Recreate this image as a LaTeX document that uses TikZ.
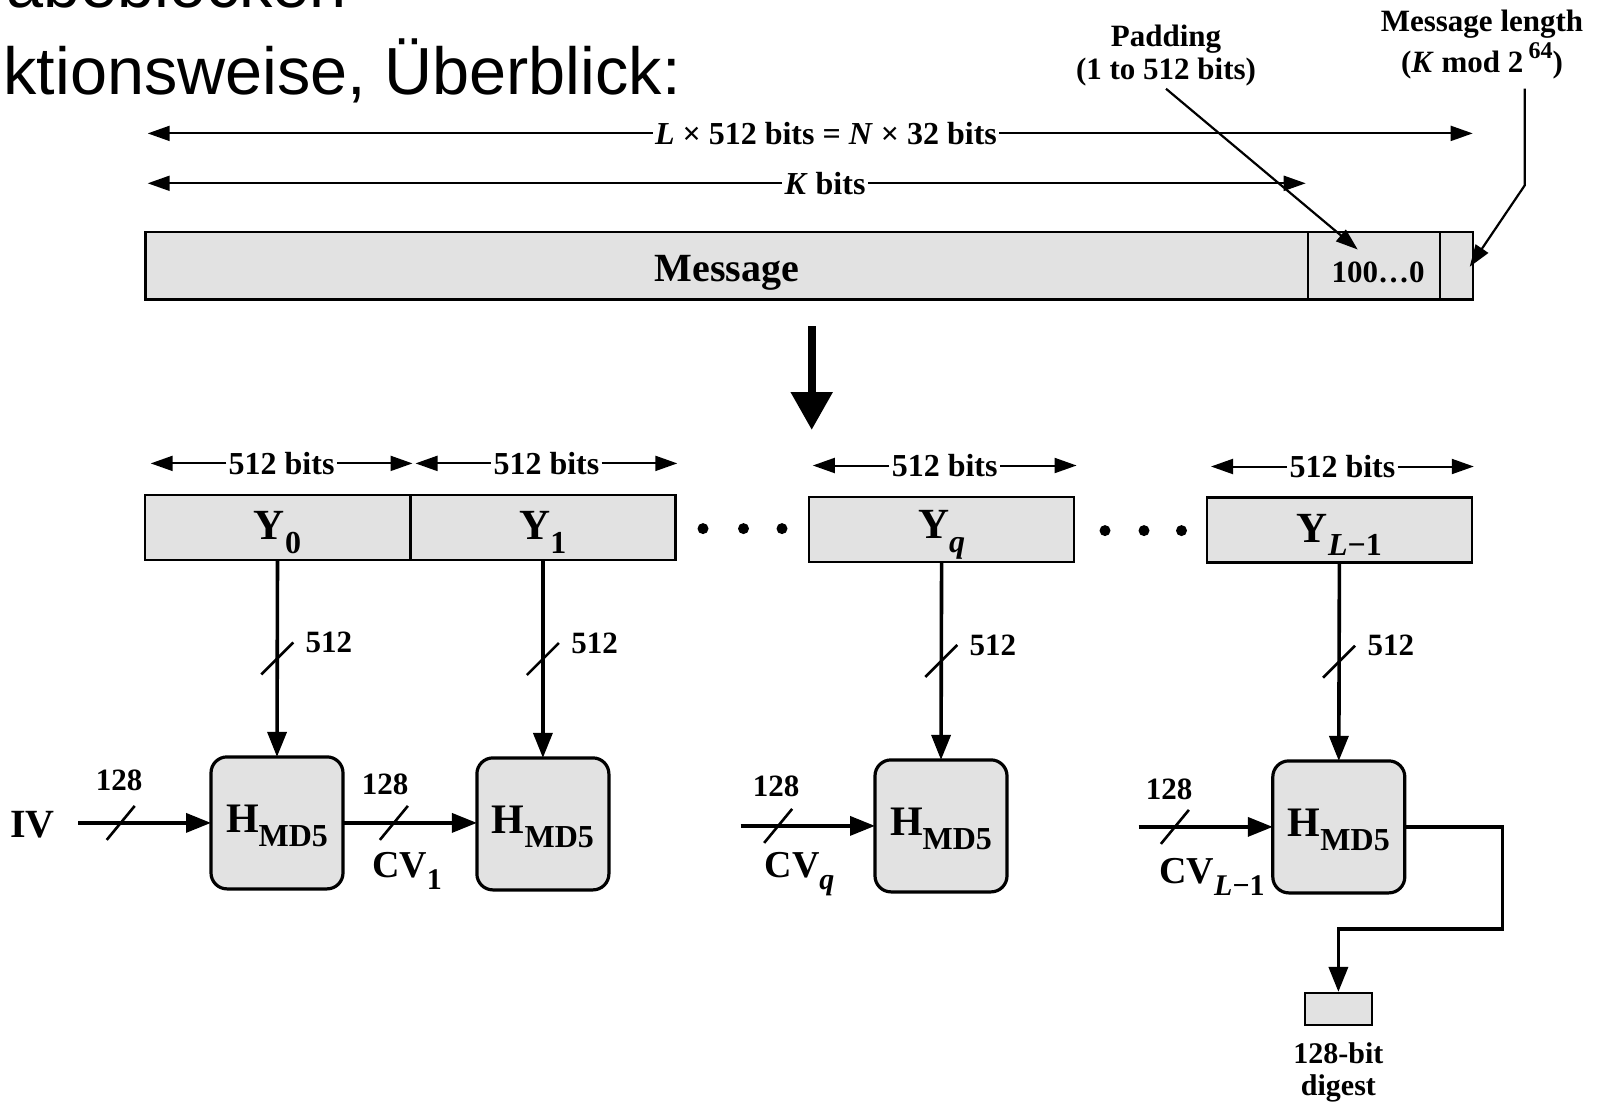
\documentclass[tikz,border=0pt]{standalone}
\usepackage{fontspec}
\setmainfont{Liberation Serif}
\newfontfamily\headfont{Liberation Sans}
\usetikzlibrary{arrows.meta,calc}
\newcommand\fs[1]{\fontsize{#1}{#1}\selectfont}
\newcommand\fsb[2]{\fontsize{#1}{#2}\selectfont}
\newcommand\mysub[3]{#2\raisebox{-0.32em}{\fs{#1}#3}}
\definecolor{boxfill}{RGB}{226,226,226}
\begin{document}
\begin{tikzpicture}[x=0.5pt,y=-0.5pt,
  every node/.style={font=\bfseries},
  headtxt/.style={anchor=base west,inner sep=0pt,font=\headfont\fs{33.3}},
  lbl/.style={inner sep=1pt,font=\bfseries\fs{16}},
  small/.style={inner sep=1pt,font=\bfseries\fs{15.5}},
  dimarrow/.style={line width=1pt,-{Triangle[length=11pt,width=7.5pt]}},
  pointer/.style={line width=1.1pt,-{Triangle[length=11pt,width=7.5pt]}},
  flowline/.style={line width=1.8pt},
  flowarrow/.style={flowline,-{Triangle[length=12.5pt,width=9.5pt]}},
  slashmark/.style={line width=1.3pt},
  bar/.style={draw,line width=1.2pt,fill=boxfill,inner sep=0pt,outer sep=0pt,minimum height=33.6pt},
  block/.style={draw,line width=1.2pt,fill=boxfill,inner sep=0pt,outer sep=0pt,minimum width=132.5pt,minimum height=32.5pt},
  blocktxt/.style={inner sep=0pt,font=\bfseries\fs{21.5}},
  hbox/.style={draw,line width=1.6pt,fill=boxfill,rounded corners=8pt,inner sep=0pt,outer sep=0pt,minimum width=66pt,minimum height=66pt},
  htxt/.style={inner sep=0pt,font=\bfseries\fs{21}},
  cvlbl/.style={inner sep=1pt,font=\bfseries\fs{19}}
]
\useasboundingbox (0,0) rectangle (1597,1103);

% heading (cut off slide text)
\node[headtxt] (head1) at (6,8) {abeblöcken};
\node[headtxt] (head2) at (3,94.5) {ktionsweise, Überblick:};

% message bar
\node[bar,minimum width=581.1pt] (msg) at (726.7,265.8) {};
\node[bar,minimum width=66.2pt] (pad) at (1374,265.8) {};
\node[bar,minimum width=16.25pt] (len) at (1456.45,265.8) {};
\node[inner sep=0pt,font=\bfseries\fs{20}] (msgt) at ([yshift=-3.5pt]msg.center) {Message};
\node[inner sep=0pt,font=\bfseries\fs{15.5}] (padt) at ([xshift=2pt,yshift=-3.5pt]pad.center) {100…0};

% top dimension arrows
\node[lbl] (Llab) at (826,133.4) {\textit{L} × 512 bits = \textit{N} × 32 bits};
\coordinate (Lleft) at (147.7,133.4);
\coordinate (Lright) at (1472.7,133.4);
\draw[dimarrow] (Llab.west) -- (Lleft);
\draw[dimarrow] (Llab.east) -- (Lright);
\node[lbl] (Klab) at (825,183.3) {\textit{K} bits};
\coordinate (Kleft) at (147.7,183.3);
\coordinate (Kright) at (1305.7,183.3);
\draw[dimarrow] (Klab.west) -- (Kleft);
\draw[dimarrow] (Klab.east) -- (Kright);

% padding / length annotations
\node[small,align=center,font=\bfseries\fsb{15.5}{16.8}] (padlab) at (1166,55.5) {Padding\\(1 to 512 bits)};
\coordinate (padtip) at (1357.7,249.5);
\draw[pointer] (padlab.south) -- (padtip);
\node[small,align=center,font=\bfseries\fsb{15.5}{20.5}] (lenlab) at (1482,44.7) {Message length\\(\textit{K} mod 2\,\raisebox{0.45em}{\fs{12}64})};
\coordinate (lenA) at (1524.7,88.6);
\coordinate (lenB) at (1524.7,185.4);
\coordinate (lentip) at (1469.7,266.8);
\draw[pointer] (lenA) -- (lenB) -- (lentip);

% big down arrow
\coordinate (bigA) at (811.7,326);
\coordinate (bigB) at (811.7,430);
\draw[line width=4.2pt,-{Triangle[length=19pt,width=20pt]}] (bigA) -- (bigB);

% blocks
\node[block] (y0) at (277.5,527.5) {};
\node[block] (y1) at (542.9,527.5) {};
\node[block] (yq) at (941.6,529.5) {};
\node[block] (yL) at (1339.4,530) {};
\node[blocktxt] (y0t) at ([yshift=-2.5pt]y0.center) {\mysub{16}{Y}{0}};
\node[blocktxt] (y1t) at ([yshift=-2.5pt]y1.center) {\mysub{16}{Y}{1}};
\node[blocktxt] (yqt) at ([yshift=-2.5pt]yq.center) {\mysub{16}{Y}{\textit{q}}};
\node[blocktxt] (yLt) at ([yshift=-2.5pt]yL.center) {\mysub{16}{Y}{\textit{L}−1}};

% block dimension arrows
\node[lbl] (b0lab) at (281.6,463.4) {512 bits};
\coordinate (b0l) at (150.7,463.4); \coordinate (b0r) at (412.5,463.4);
\draw[dimarrow] (b0lab.west) -- (b0l); \draw[dimarrow] (b0lab.east) -- (b0r);
\node[lbl] (b1lab) at (546.4,463.4) {512 bits};
\coordinate (b1l) at (415.5,463.4); \coordinate (b1r) at (677.3,463.4);
\draw[dimarrow] (b1lab.west) -- (b1l); \draw[dimarrow] (b1lab.east) -- (b1r);
\node[lbl] (bqlab) at (944.7,465.5) {512 bits};
\coordinate (bql) at (812.8,465.5); \coordinate (bqr) at (1076.6,465.5);
\draw[dimarrow] (bqlab.west) -- (bql); \draw[dimarrow] (bqlab.east) -- (bqr);
\node[lbl] (bLlab) at (1342.4,466.5) {512 bits};
\coordinate (bLl) at (1211,466.5); \coordinate (bLr) at (1473.8,466.5);
\draw[dimarrow] (bLlab.west) -- (bLl); \draw[dimarrow] (bLlab.east) -- (bLr);

% dots
\foreach \x in {703,743.5,782} \fill (\x,528.6) circle[radius=5.5];
\foreach \x in {1105,1144,1181.5} \fill (\x,530.6) circle[radius=5.5];

% compression boxes
\node[hbox] (h1) at (277,822.9) {};
\node[hbox] (h2) at (542.9,823.9) {};
\node[hbox] (hq) at (941,825.9) {};
\node[hbox] (hL) at (1338.8,826.9) {};
\foreach \h in {h1,h2,hq,hL}
  \node[htxt] (\h t) at ([yshift=-1.5pt]\h.center) {\mysub{16}{H}{MD5}};

% vertical flows
\draw[flowarrow] (y0.south) -- coordinate[pos=0.5] (s0) (h1.north);
\draw[flowarrow] (y1.south) -- coordinate[pos=0.5] (s1) (h2.north);
\draw[flowarrow] (yq.south) -- coordinate[pos=0.5] (sq) (hq.north);
\draw[flowarrow] (yL.south) -- coordinate[pos=0.5] (sL) (hL.north);
\foreach \s in {s0,s1,sq,sL}{
  \draw[slashmark] ($(\s)+(-16,16)$) -- ($(\s)+(16,-16)$);
  \node[small,anchor=west] (\s lab) at ($(\s)+(26,-16)$) {512};
}

% horizontal flows
\node[cvlbl,font=\bfseries\fs{20}] (iv) at (32.6,825) {IV};
\draw[flowarrow] ([xshift=10.5pt]iv.east |- h1.west) -- coordinate[pos=0.32] (t0) (h1.west);
\draw[flowarrow] (h1.east) -- coordinate[pos=0.38] (t1) (h1.east -| h2.west);
\coordinate (cqstart) at (740.5,825.9);
\draw[flowarrow] (cqstart) -- coordinate[pos=0.28] (tq) (hq.west);
\coordinate (cLstart) at (1138.7,826.9);
\draw[flowarrow] (cLstart) -- coordinate[pos=0.27] (tL) (hL.west);
\foreach \t in {t0,t1,tq,tL}{
  \draw[slashmark] ($(\t)+(-14,17)$) -- ($(\t)+(14,-17)$);
}
\node[small] (n0) at (119,780) {128};
\node[small] (n1) at (385,784) {128};
\node[small] (nq) at (776,786) {128};
\node[small] (nL) at (1169,789) {128};
\node[cvlbl] (cv1) at (407,871) {\mysub{15}{CV}{1}};
\node[cvlbl] (cvq) at (799.5,874) {\mysub{15}{CV}{\textit{q}}};
\node[cvlbl] (cvL) at (1212,877) {\mysub{15}{CV}{\textit{L}−1}};

% output
\node[draw,line width=1.1pt,fill=boxfill,inner sep=0pt,minimum width=33.5pt,minimum height=15.8pt] (digest) at (1338.4,1008.8) {};
\coordinate (outc) at (1502.3,929);
\draw[flowarrow] (hL.east) -| (outc) -| (digest.north);
\node[small,align=center,font=\bfseries\fsb{15}{16}] (dlab) at (1338.4,1072) {128-bit\\digest};
\end{tikzpicture}
\end{document}
